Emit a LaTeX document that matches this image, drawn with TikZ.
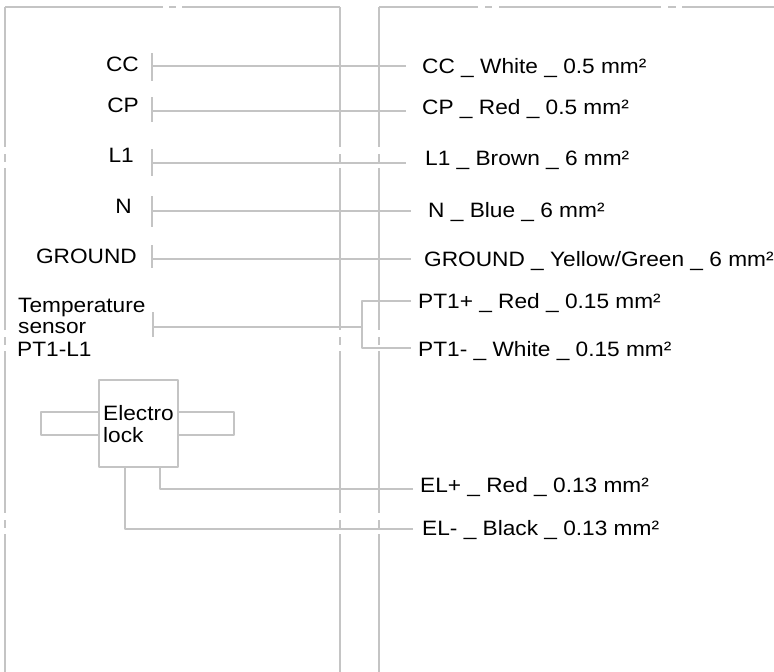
\documentclass[tikz,border=0pt]{standalone}
\usepackage{fontspec}
\setmainfont[FakeStretch=1.09]{Liberation Sans}
\definecolor{linegray}{HTML}{C4C4C4}
\tikzset{
  wire/.style={draw=linegray,line width=2pt,line join=round},
  lab/.style={anchor=base west,inner sep=0pt,font=\fontsize{20.8}{22}\selectfont,text=black},
  lablr/.style={lab,anchor=base east},
  vframe/.style={wire,dash pattern=on 162pt off 7pt on 8pt off 6pt,dash phase=22pt},
}
\begin{document}
\begin{tikzpicture}[x=1pt,y=-1pt]
\useasboundingbox (0,0) rectangle (774,672);
% frames
\coordinate (fa) at (5,7);
\coordinate (fb) at (340,7);
\coordinate (fc) at (379,7);
\coordinate (fd) at (774,7);
\coordinate (ga) at (5,672);
\coordinate (gb) at (340,672);
\coordinate (gc) at (379,672);
\draw[vframe] (fa) -- (ga);
\draw[vframe] (fb) -- (gb);
\draw[vframe] (fc) -- (gc);
\draw[wire,dash pattern=on 158pt off 6pt on 7pt off 6pt on 300pt] (fa) -- (fb);
\draw[wire,dash pattern=on 99pt off 7pt on 7pt off 7pt on 162pt off 7pt on 8pt off 6pt on 200pt] (fc) -- (fd);
% left labels
\node[lablr] (lCC) at (139,71) {CC};
\node[lablr] (lCP) at (139,112) {CP};
\node[lablr] (lL) at (134,162) {L1};
\node[lablr] (lN) at (132,213) {N};
\node[lablr] (lG) at (137,263) {GROUND};
\node[lab] (lT1) at (18,312) {Temperature};
\node[lab] (lT2) at (18,333) {sensor};
\node[lab] (lT3) at (17,356) {PT1-L1};
% right labels
\node[lab] (rCC) at (422,73) {CC \_ White \_ 0.5 mm²};
\node[lab] (rCP) at (422,114) {CP \_ Red \_ 0.5 mm²};
\node[lab] (rL) at (425,165) {L1 \_ Brown \_ 6 mm²};
\node[lab] (rN) at (428,217) {N \_ Blue \_ 6 mm²};
\node[lab] (rG) at (424,266) {GROUND \_ Yellow/Green \_ 6 mm²};
\node[lab] (rPp) at (418,308) {PT1+ \_ Red \_ 0.15 mm²};
\node[lab] (rPm) at (418,356) {PT1- \_ White \_ 0.15 mm²};
\node[lab] (rEp) at (420,492) {EL+ \_ Red \_ 0.13 mm²};
\node[lab] (rEm) at (422,535) {EL- \_ Black \_ 0.13 mm²};
% ticks and wires
\foreach \nm/\yt/\yb/\yw/\xe in {CC/53/81/66/406,CP/97/122/111/406,L/149/176/163/406,N/196/227/211/411,G/245/268/259/411}{
  \coordinate (ta\nm) at (152,\yt);
  \coordinate (tb\nm) at (152,\yb);
  \coordinate (wa\nm) at (152,\yw);
  \coordinate (wb\nm) at (\xe,\yw);
  \draw[wire] (ta\nm) -- (tb\nm);
  \draw[wire] (wa\nm) -- (wb\nm);
}
% temperature sensor
\coordinate (taT) at (153,312);
\coordinate (tbT) at (153,337);
\coordinate (waT) at (153,327);
\coordinate (junc) at (362,327);
\coordinate (tp) at (362,301);
\coordinate (tm) at (362,348);
\coordinate (ep) at (411,301);
\coordinate (em) at (411,348);
\draw[wire] (taT) -- (tbT);
\draw[wire] (waT) -- (junc);
\draw[wire] (ep) -- (tp) -- (tm) -- (em);
% electro lock
\node[draw=linegray,line width=2pt,line join=round,minimum width=79pt,minimum height=87pt,inner sep=0pt,anchor=north west] (box) at (98,379) {};
\node[lab] (lE1) at (103,420) {Electro};
\node[lab] (lE2) at (103,442) {lock};
\coordinate (ll1) at (41,412);
\coordinate (ll2) at (41,435);
\coordinate (lr1) at (234,412);
\coordinate (lr2) at (234,435);
\draw[wire] (box.west |- ll1) -- (ll1) -- (ll2) -- (box.west |- ll2);
\draw[wire] (box.east |- lr1) -- (lr1) -- (lr2) -- (box.east |- lr2);
\coordinate (bp) at (160,466);
\coordinate (cp) at (160,489);
\coordinate (dp) at (413,489);
\coordinate (bm) at (125,466);
\coordinate (cm) at (125,529);
\coordinate (dm) at (413,529);
\draw[wire] (bp) -- (cp) -- (dp);
\draw[wire] (bm) -- (cm) -- (dm);
\end{tikzpicture}
\end{document}
